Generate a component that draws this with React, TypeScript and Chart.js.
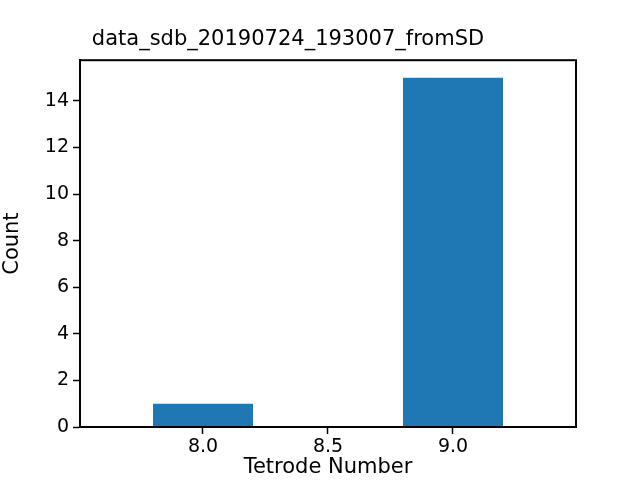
import React, { useEffect, useRef } from "react";
import { Chart, registerables } from "chart.js";
Chart.register(...registerables);

const tetrodes = [8, 9];
const counts = [1, 15];
const xTicks = [8.0, 8.5, 9.0];
const yTicks = [0, 2, 4, 6, 8, 10, 12, 14];
const titleText = "data_sdb_20190724_193007_fromSD";

const frame = {
  id: "frame",
  afterDraw(c: any) {
    const { left, top, right, bottom } = c.chartArea;
    const ctx = c.ctx;
    ctx.save();
    ctx.strokeStyle = "#000";
    ctx.lineWidth = 2;
    ctx.strokeRect(left, top, right - left, bottom - top);
    ctx.restore();
  },
};

export default function App() {
  const ref = useRef<HTMLCanvasElement>(null);
  useEffect(() => {
    document.body.style.margin = "0";
    const font = { family: "DejaVu Sans", size: 19 };
    const chart = new Chart(ref.current!, {
      type: "bar",
      data: {
        datasets: [
          {
            data: tetrodes.map((t, i) => ({ x: t, y: counts[i] })),
            backgroundColor: "#1f77b4",
            categoryPercentage: 1,
            barPercentage: 0.8,
          },
        ],
      },
      options: {
        animation: false,
        responsive: false,
        layout: { padding: { left: 0, right: 64, top: 0, bottom: 0 } },
        plugins: {
          legend: { display: false },
          tooltip: { enabled: false },
          title: {
            display: true,
            text: titleText,
            color: "#000",
            font: { family: "DejaVu Sans", size: 21, weight: "normal" },
            padding: { top: 27, bottom: 8 },
          },
        },
        scales: {
          x: {
            type: "linear",
            offset: false,
            min: 7.508,
            max: 9.492,
            afterBuildTicks: (s: any) => {
              s.ticks = xTicks.map((v) => ({ value: v }));
            },
            afterFit: (s: any) => {
              s.height = 53;
            },
            ticks: { color: "#000", font, callback: (v: any) => Number(v).toFixed(1), maxRotation: 0, padding: 2 },
            grid: { offset: false, drawOnChartArea: false, tickLength: 7, color: "#000", tickWidth: 1.5 },
            border: { color: "#000", width: 2 },
            title: { display: true, text: "Tetrode Number", color: "#000", font: { family: "DejaVu Sans", size: 21 }, padding: { top: 2, bottom: 0 } },
          },
          y: {
            min: 0,
            max: 15.75,
            afterBuildTicks: (s: any) => {
              s.ticks = yTicks.map((v) => ({ value: v }));
            },
            afterFit: (s: any) => {
              s.width = 80;
            },
            ticks: { color: "#000", font, padding: 4 },
            grid: { drawOnChartArea: false, tickLength: 7, color: "#000", tickWidth: 1.5 },
            border: { color: "#000", width: 2 },
            title: { display: true, text: "Count", color: "#000", font: { family: "DejaVu Sans", size: 21 }, padding: { top: 0, bottom: 2 } },
          },
        },
      },
      plugins: [frame],
    });
    return () => chart.destroy();
  }, []);
  return <canvas ref={ref} width={640} height={480} />;
}
